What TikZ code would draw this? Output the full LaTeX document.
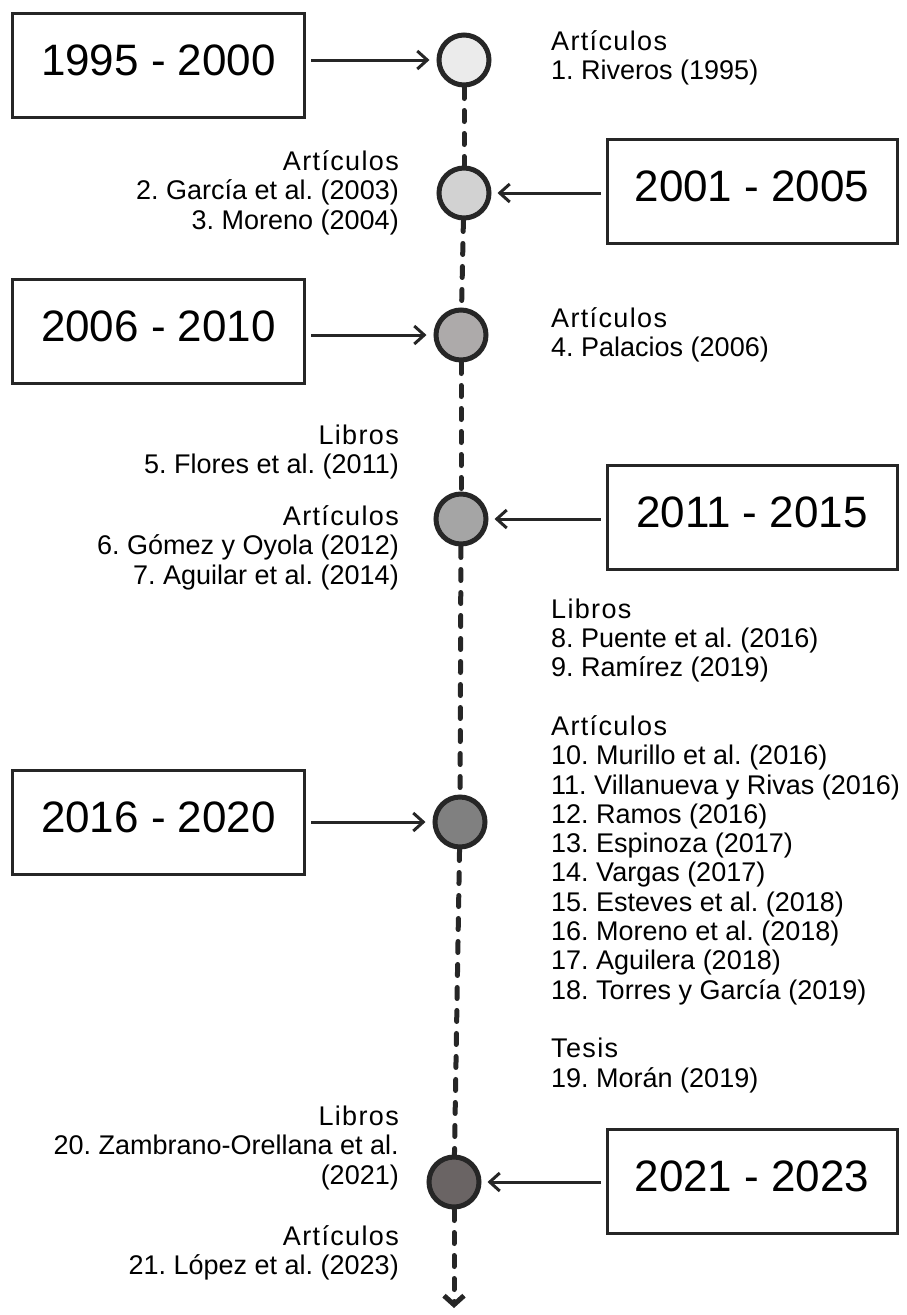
\documentclass[tikz,border=0pt]{standalone}
\usepackage{fontspec}
\setmainfont{Liberation Sans}
\usetikzlibrary{arrows.meta}
\definecolor{lc}{HTML}{262626}
\definecolor{f1}{HTML}{EBEBEB}
\definecolor{f2}{HTML}{D2D2D2}
\definecolor{f3}{HTML}{ADAAAA}
\definecolor{f4}{HTML}{A5A5A5}
\definecolor{f5}{HTML}{808080}
\definecolor{f6}{HTML}{6A6464}
\newcommand\hd[1]{{\addfontfeature{LetterSpace=5}#1}}
\newcommand\st{\rule{0pt}{24pt}}
\frenchspacing
\begin{document}
\begin{tikzpicture}[x=1pt,y=-1pt,
  yearbox/.style={draw=lc, line width=3pt, minimum width=292pt, minimum height=104pt, inner sep=0pt, font=\fontsize{44}{50}\selectfont, text depth=10pt},
  dot/.style={circle, draw=lc, line width=5pt, minimum size=50pt, inner sep=0pt},
  link/.style={draw=lc, line width=3pt, -{Straight Barb[length=10pt,width=18pt]}},
  dashline/.style={draw=lc, line width=5pt, line cap=round, dash pattern=on 11pt off 12pt},
  reftext/.style={inner sep=0pt, font=\fontsize{27}{29.7}\selectfont},
  rt/.style={reftext, anchor=north west, align=left},
  lt/.style={reftext, anchor=north east, align=right},
]
\useasboundingbox (0,0) rectangle (907,1315);

% circles
\node[dot, fill=f1] (c1) at (464,60) {};
\node[dot, fill=f2] (c2) at (464,193) {};
\node[dot, fill=f3] (c3) at (461,335) {};
\node[dot, fill=f4] (c4) at (461,519) {};
\node[dot, fill=f5] (c5) at (460,822) {};
\node[dot, fill=f6] (c6) at (454,1182) {};
\coordinate (tip) at (454,1308);

% dashed timeline
\draw[dashline] (c1) -- (c2);
\draw[dashline] (c2) -- (c3);
\draw[dashline] (c3) -- (c4);
\draw[dashline] (c4) -- (c5);
\draw[dashline] (c5) -- (c6);
\draw[dashline, -{Straight Barb[length=9pt,width=20pt]}] (c6) -- (tip);

% year boxes
\node[yearbox] (b1) at (158.5,65.5) {1995 - 2000};
\node[yearbox, minimum width=290pt] (b2) at (752,191.5) {2001 - 2005};
\node[yearbox] (b3) at (158.5,331) {2006 - 2010};
\node[yearbox, minimum width=290pt] (b4) at (752,517) {2011 - 2015};
\node[yearbox] (b5) at (158.5,822) {2016 - 2020};
\node[yearbox, minimum width=290pt] (b6) at (752,1181.5) {2021 - 2023};

% connectors
\draw[link, shorten <=5pt, shorten >=7pt] (b1.east |- c1) -- (c1.west);
\draw[link, shorten <=5pt, shorten >=6pt] (b2.west |- c2) -- (c2.east);
\draw[link, shorten <=5pt, shorten >=7pt] (b3.east |- c3) -- (c3.west);
\draw[link, shorten <=5pt, shorten >=6pt] (b4.west |- c4) -- (c4.east);
\draw[link, shorten <=5pt, shorten >=7pt] (b5.east |- c5) -- (c5.west);
\draw[link, shorten <=5pt, shorten >=6pt] (b6.west |- c6) -- (c6.east);

% reference texts
\node[rt] (t1) at (551,26) {\st\hd{Artículos}\\1. Riveros (1995)};
\node[lt] (t2) at (399,146) {\st\hd{Artículos}\\2. García et al. (2003)\\3. Moreno (2004)};
\node[rt] (t3) at (551,303) {\st\hd{Artículos}\\4. Palacios (2006)};
\node[lt] (t4a) at (399,420) {\st\hd{Libros}\\5. Flores et al. (2011)};
\node[lt] (t4b) at (399,501) {\st\hd{Artículos}\\6. Gómez y Oyola (2012)\\7. Aguilar et al. (2014)};
\node[rt, font=\fontsize{27}{29.3}\selectfont] (t5) at (551,594) {\st\hd{Libros}\\8. Puente et al. (2016)\\9. Ramírez (2019)\\[29.3pt]
  \hd{Artículos}\\10. Murillo et al. (2016)\\11. Villanueva y Rivas (2016)\\12. Ramos (2016)\\13. Espinoza (2017)\\14. Vargas (2017)\\15. Esteves et al. (2018)\\16. Moreno et al. (2018)\\17. Aguilera (2018)\\18. Torres y García (2019)\\[29.3pt]
  \hd{Tesis}\\19. Morán (2019)};
\node[lt] (t6a) at (399,1101) {\st\hd{Libros}\\20. Zambrano-Orellana et al.\\(2021)};
\node[lt] (t6b) at (399,1221) {\st\hd{Artículos}\\21. López et al. (2023)};
\end{tikzpicture}
\end{document}
